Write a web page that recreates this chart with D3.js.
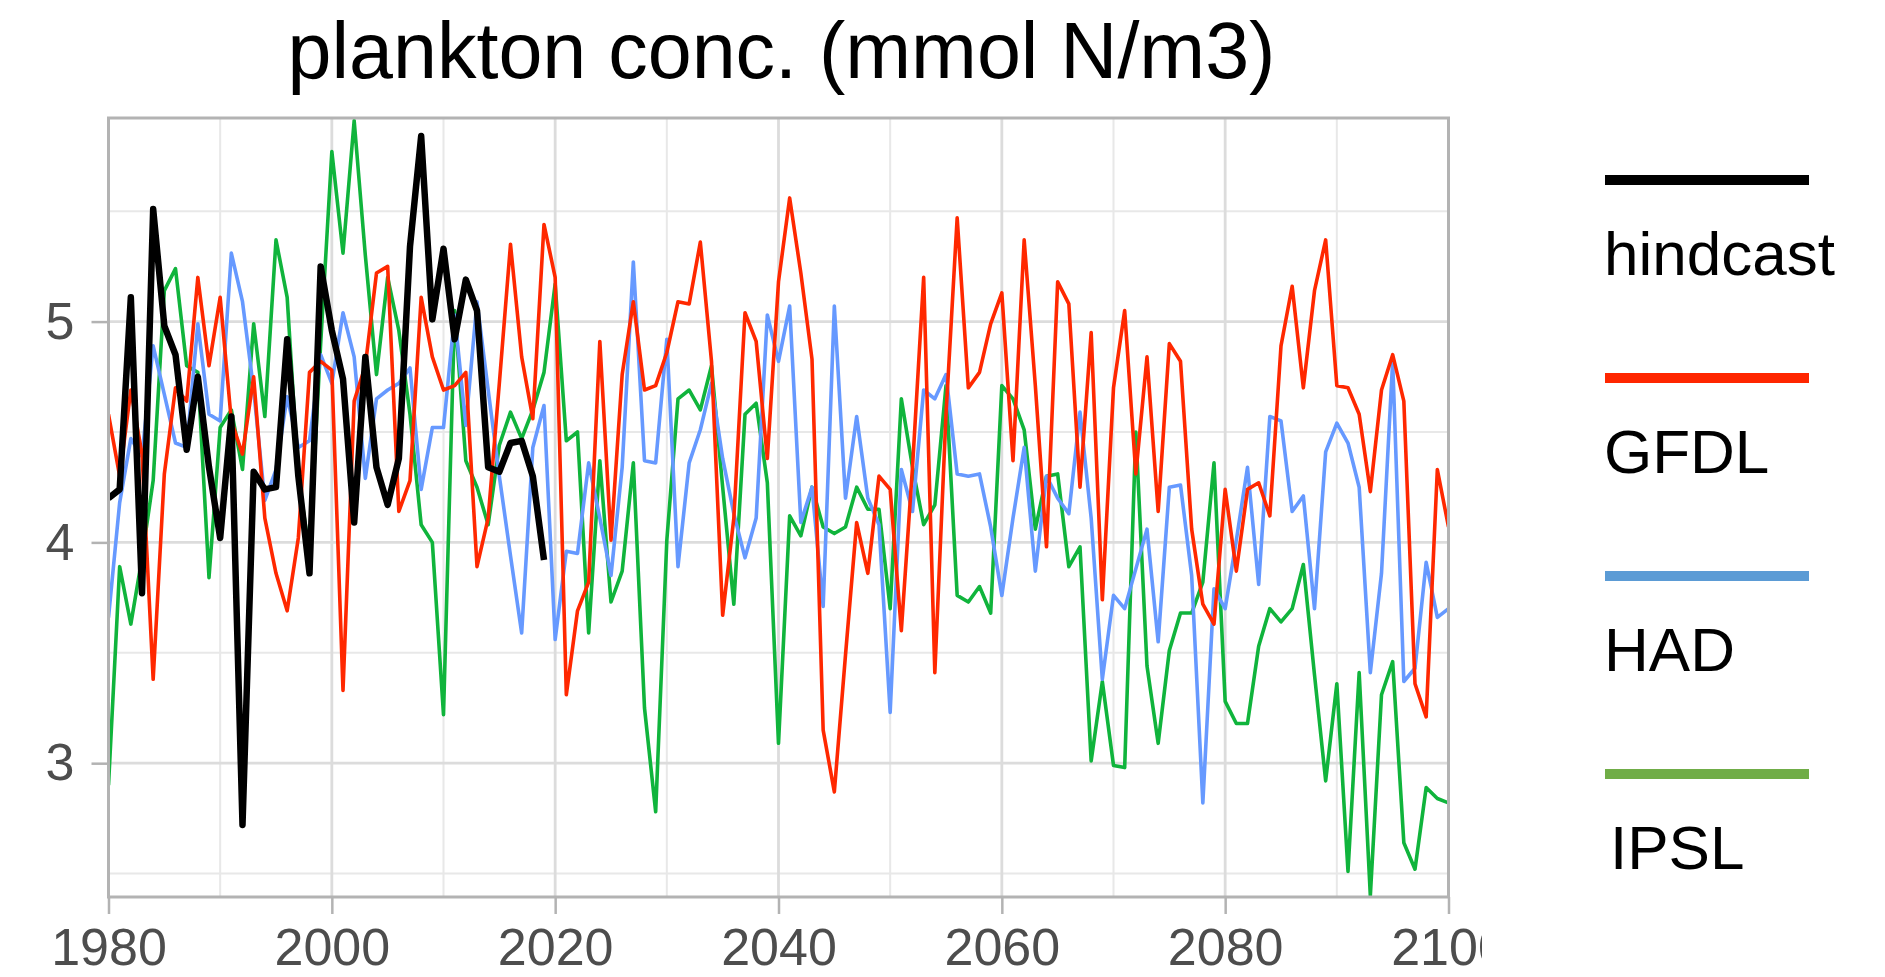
<!doctype html>
<html>
  <head>
    <meta charset="utf-8">
    <script src="https://cdn.jsdelivr.net/npm/d3@7"></script>
    <style>
      body {
        margin: 0;
        background-color: white;
      }
      svg text {
        font-family: 'Liberation Sans', Arial, sans-serif;
      }
      .axis text {
        fill: #4d4d4d;
        font-size: 52px;
      }
      .axis line {
        stroke: #b3b3b3;
        stroke-width: 2.5;
      }
      .legend text {
        font-size: 62px;
        fill: black;
      }
    </style>
  </head>
  <body>
    <svg class="chart"></svg>
  <script>

    const years = d3.range(1980, 2101)
    const hindcastYears = d3.range(1980, 2020)

    const hindcast = [4.20,4.24,5.11,3.77,5.51,4.98,4.85,4.42,4.75,4.34,
                      4.02,4.57,2.72,4.32,4.24,4.25,4.92,4.30,3.86,5.25,
                      4.96,4.74,4.09,4.84,4.34,4.17,4.38,5.34,5.84,5.01,
                      5.33,4.92,5.19,5.05,4.34,4.32,4.45,4.46,4.30,3.92]

    const gfdl = [4.58,4.30,4.69,4.40,3.38,4.31,4.70,4.64,5.20,4.80,
                  5.11,4.55,4.40,4.75,4.11,3.86,3.69,4.02,4.77,4.82,
                  4.78,3.33,4.64,4.80,5.22,5.25,4.14,4.28,5.11,4.84,
                  4.69,4.71,4.77,3.89,4.11,4.72,5.35,4.84,4.56,5.44,
                  5.20,3.31,3.69,3.82,4.91,4.01,4.76,5.09,4.69,4.71,
                  4.86,5.09,5.08,5.36,4.82,3.67,4.11,5.04,4.91,4.38,
                  5.18,5.56,5.22,4.83,3.15,2.87,3.49,4.09,3.86,4.30,
                  4.24,3.60,4.34,5.20,3.41,4.58,5.47,4.70,4.77,4.99,
                  5.13,4.37,5.37,4.71,3.98,5.18,5.08,4.25,4.95,3.74,
                  4.70,5.05,4.31,4.84,4.14,4.90,4.82,4.06,3.72,3.63,
                  4.24,3.87,4.24,4.27,4.12,4.89,5.16,4.70,5.14,5.37,
                  4.71,4.70,4.58,4.23,4.69,4.85,4.64,3.36,3.21,4.33,
                  4.07]

    const had = [3.66,4.18,4.47,4.39,4.89,4.67,4.45,4.43,4.99,4.58,
                 4.55,5.31,5.09,4.69,4.19,4.33,4.66,4.43,4.46,4.85,
                 4.72,5.04,4.84,4.29,4.65,4.69,4.72,4.79,4.24,4.52,
                 4.52,5.03,4.53,5.09,4.69,4.30,3.94,3.59,4.43,4.62,
                 3.56,3.96,3.95,4.36,4.11,3.85,4.34,5.27,4.37,4.36,
                 4.92,3.89,4.36,4.51,4.72,4.38,4.13,3.93,4.11,5.03,
                 4.82,5.07,4.09,4.25,3.71,5.07,4.20,4.57,4.20,4.08,
                 3.23,4.33,4.14,4.69,4.65,4.76,4.31,4.30,4.31,4.07,
                 3.76,4.11,4.43,3.87,4.30,4.20,4.13,4.59,4.11,3.38,
                 3.76,3.70,3.88,4.06,3.55,4.25,4.26,3.85,2.82,3.79,
                 3.70,4.01,4.34,3.81,4.57,4.55,4.14,4.21,3.70,4.41,
                 4.54,4.45,4.25,3.41,3.86,4.82,3.37,3.43,3.91,3.66,
                 3.70]

    const ipsl = [2.90,3.89,3.63,3.93,4.28,5.14,5.24,4.80,4.77,3.84,
                  4.52,4.60,4.33,4.99,4.57,5.37,5.11,4.30,3.95,4.90,
                  5.77,5.31,5.91,5.30,4.76,5.20,4.96,4.58,4.08,4.00,
                  3.22,5.05,4.37,4.25,4.08,4.44,4.59,4.47,4.60,4.77,
                  5.17,4.46,4.50,3.59,4.37,3.73,3.87,4.36,3.25,2.78,
                  4.01,4.65,4.69,4.60,4.80,4.25,3.72,4.58,4.63,4.27,
                  3.09,4.12,4.03,4.25,4.07,4.04,4.07,4.25,4.15,4.15,
                  3.70,4.65,4.34,4.08,4.17,4.71,3.76,3.73,3.80,3.68,
                  4.71,4.65,4.51,4.06,4.30,4.31,3.89,3.98,3.01,3.37,
                  2.99,2.98,4.50,3.44,3.09,3.51,3.68,3.68,3.82,4.36,
                  3.28,3.18,3.18,3.53,3.70,3.64,3.70,3.90,3.40,2.92,
                  3.36,2.51,3.41,2.40,3.31,3.46,2.64,2.52,2.89,2.84,
                  2.82]

    const xTicks = [1980, 2000, 2020, 2040, 2060, 2080, 2100]
    const xMinor = [1990, 2010, 2030, 2050, 2070, 2090]
    const yTicks = [3, 4, 5]
    const yMinor = [2.5, 3.5, 4.5, 5.5]

    const legendNames = ["hindcast", "GFDL", "HAD", "IPSL"]
    const legendColors = ["#000000", "#ff2600", "#5b9bd5", "#70ad47"]

    const width = 1885,
          height = 977
    const panel = { left: 108.5, right: 1448.5, top: 118, bottom: 897 }

    const svg = d3.select("svg")
                .attr("width", width)
                .attr("height", height)

    const x = d3.scaleLinear()
                .domain([1980, 2100])
                .range([panel.left, panel.right])

    const y = d3.scaleLinear()
                .domain([2.394, 5.922])
                .range([panel.bottom, panel.top])

    // grid
    const grid = svg.append("g").attr("class", "grid")

    grid.selectAll(".vminor")
      .data(xMinor)
      .enter().append("line")
        .attr("x1", d => x(d)).attr("x2", d => x(d))
        .attr("y1", panel.top).attr("y2", panel.bottom)
        .attr("stroke", "#e8e8e8")
        .attr("stroke-width", 2)

    grid.selectAll(".hminor")
      .data(yMinor)
      .enter().append("line")
        .attr("x1", panel.left).attr("x2", panel.right)
        .attr("y1", d => y(d)).attr("y2", d => y(d))
        .attr("stroke", "#e8e8e8")
        .attr("stroke-width", 2)

    grid.selectAll(".vmajor")
      .data(xTicks)
      .enter().append("line")
        .attr("x1", d => x(d)).attr("x2", d => x(d))
        .attr("y1", panel.top).attr("y2", panel.bottom)
        .attr("stroke", "#dcdcdc")
        .attr("stroke-width", 2.8)

    grid.selectAll(".hmajor")
      .data(yTicks)
      .enter().append("line")
        .attr("x1", panel.left).attr("x2", panel.right)
        .attr("y1", d => y(d)).attr("y2", d => y(d))
        .attr("stroke", "#dcdcdc")
        .attr("stroke-width", 2.8)

    // series lines, clipped to the panel
    svg.append("clipPath")
        .attr("id", "panel-clip")
      .append("rect")
        .attr("x", panel.left)
        .attr("y", panel.top)
        .attr("width", panel.right - panel.left)
        .attr("height", panel.bottom - panel.top)

    const line = d3.line()
                   .x(d => x(d[0]))
                   .y(d => y(d[1]))

    const series = [
      { values: ipsl, yrs: years, color: "#10b43c", w: 3.6 },
      { values: had, yrs: years, color: "#6699ff", w: 3.6 },
      { values: gfdl, yrs: years, color: "#ff2800", w: 3.6 },
      { values: hindcast, yrs: hindcastYears, color: "#000000", w: 6.5 }
    ]

    svg.append("g")
        .attr("clip-path", "url(#panel-clip)")
      .selectAll("path")
      .data(series)
      .enter().append("path")
        .attr("fill", "none")
        .attr("stroke", d => d.color)
        .attr("stroke-width", d => d.w)
        .attr("stroke-linejoin", "round")
        .attr("d", d => line(d.yrs.map((yr, i) => [yr, d.values[i]])))

    // panel border
    svg.append("rect")
        .attr("x", panel.left)
        .attr("y", panel.top)
        .attr("width", panel.right - panel.left)
        .attr("height", panel.bottom - panel.top)
        .attr("fill", "none")
        .attr("stroke", "#b3b3b3")
        .attr("stroke-width", 3)

    // axes (the last x label is cut off in the original)
    svg.append("clipPath")
        .attr("id", "label-clip")
      .append("rect")
        .attr("x", 0).attr("y", 0)
        .attr("width", 1482).attr("height", height)

    const xAxis = d3.axisBottom(x)
                    .tickValues(xTicks)
                    .tickSize(17)
                    .tickPadding(14)
                    .tickFormat(d3.format("d"))

    svg.append("g")
        .attr("class", "axis")
        .attr("clip-path", "url(#label-clip)")
        .attr("transform", "translate(0," + panel.bottom + ")")
        .call(xAxis)
        .call(g => g.select(".domain").remove())

    const yAxis = d3.axisLeft(y)
                    .tickValues(yTicks)
                    .tickSize(17)
                    .tickPadding(17)
                    .tickFormat(d3.format("d"))

    svg.append("g")
        .attr("class", "axis")
        .attr("transform", "translate(" + panel.left + ",0)")
        .call(yAxis)
        .call(g => g.select(".domain").remove())

    d3.selectAll(".axis text").attr("font-family", null)

    // title
    svg.append("text")
        .attr("x", (panel.left + panel.right) / 2 + 3)
        .attr("y", 78)
        .attr("text-anchor", "middle")
        .attr("font-size", 79)
        .attr("fill", "black")
        .text("plankton conc. (mmol N/m3)")

    // legend
    const legend = svg.append("g").attr("class", "legend")
    const legendY = d3.scalePoint()
                      .domain(legendNames)
                      .range([180, 774])

    legend.selectAll("line")
      .data(legendNames)
      .enter().append("line")
        .attr("x1", 1605).attr("x2", 1809)
        .attr("y1", d => legendY(d)).attr("y2", d => legendY(d))
        .attr("stroke", (d, i) => legendColors[i])
        .attr("stroke-width", 10)

    legend.selectAll("text")
      .data(legendNames)
      .enter().append("text")
        .attr("x", (d, i) => i === 3 ? 1610 : 1604)
        .attr("y", d => legendY(d) + 95)
        .text(d => d)

  </script>
  </body>
</html>
